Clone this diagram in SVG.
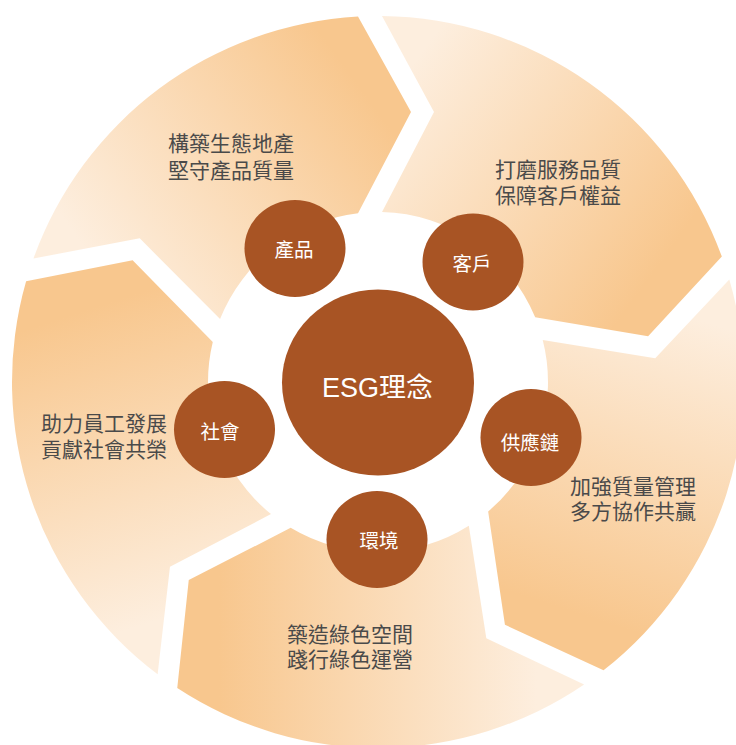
<svg xmlns="http://www.w3.org/2000/svg" width="736" height="745" viewBox="0 0 736 745">
<defs>
<linearGradient id="g1" gradientUnits="userSpaceOnUse" x1="378" y1="112" x2="634.78" y2="298.57"><stop offset="0" stop-color="#FDEEDE"/><stop offset="1" stop-color="#F8C78E"/></linearGradient>
<linearGradient id="g2" gradientUnits="userSpaceOnUse" x1="634.78" y1="298.57" x2="536.7" y2="600.43"><stop offset="0" stop-color="#FDEEDE"/><stop offset="1" stop-color="#F8C78E"/></linearGradient>
<linearGradient id="g3" gradientUnits="userSpaceOnUse" x1="536.7" y1="600.43" x2="219.3" y2="600.43"><stop offset="0" stop-color="#FDEEDE"/><stop offset="1" stop-color="#F8C78E"/></linearGradient>
<linearGradient id="g4" gradientUnits="userSpaceOnUse" x1="219.3" y1="600.43" x2="121.22" y2="298.57"><stop offset="0" stop-color="#FDEEDE"/><stop offset="1" stop-color="#F8C78E"/></linearGradient>
<linearGradient id="g5" gradientUnits="userSpaceOnUse" x1="121.22" y1="298.57" x2="378" y2="112"><stop offset="0" stop-color="#FDEEDE"/><stop offset="1" stop-color="#F8C78E"/></linearGradient>
</defs>
<style>
.node{fill:#A85424}
.desc{font-family:"Noto Sans CJK TC","Noto Sans CJK SC",sans-serif;font-size:21px;fill:#4A4A4A}
.lbl{font-family:"Noto Sans CJK TC","Noto Sans CJK SC",sans-serif;font-size:19.5px;fill:#FFFFFF;text-anchor:middle}
.main{font-family:"Liberation Sans","Noto Sans CJK TC",sans-serif;font-size:27px;fill:#FFFFFF;text-anchor:middle}
</style>
<rect width="736" height="745" fill="#FFFFFF"/>
<g id="segments">
<path id="seg-customer" fill="url(#g1)" d="M382,16.02 A366,366 0 0 1 721.85,256.61 L648.1,336.3 L535.18,317.26 A170,170 0 0 0 382,212.05 L434,112 Z"/>
<path id="seg-supply" fill="url(#g2)" d="M729.32,279.41 A366,366 0 0 1 603.51,670.27 L504.93,624.75 L488.15,511.49 A170,170 0 0 0 542.74,340.04 L655.21,358.17 Z"/>
<path id="seg-env" fill="url(#g3)" d="M584.13,684.43 A366,366 0 0 1 177.25,688.03 L188.75,580.06 L290.66,527.85 A170,170 0 0 0 468.81,525.71 L486.32,638.27 Z"/>
<path id="seg-society" fill="url(#g4)" d="M157.62,674.21 A366,366 0 0 1 26.11,281.33 L132.62,260.21 L212.78,341.98 A170,170 0 0 0 270.99,514.09 L169.98,566.77 Z"/>
<path id="seg-product" fill="url(#g5)" d="M33.48,258.49 A366,366 0 0 1 358,16.55 L411,112 L358,213.18 A170,170 0 0 0 220.06,319.12 L139.73,238.34 Z"/>
</g>
<g id="descriptions">
<text class="desc" x="168" y="151">構築生態地產<tspan x="168" dy="26.5">堅守產品質量</tspan></text>
<text class="desc" x="495" y="177">打磨服務品質<tspan x="495" dy="26">保障客戶權益</tspan></text>
<text class="desc" x="570" y="493.5">加強質量管理<tspan x="570" dy="25.5">多方協作共贏</tspan></text>
<text class="desc" x="287" y="641.5">築造綠色空間<tspan x="287" dy="25.5">踐行綠色運營</tspan></text>
<text class="desc" x="41" y="430.5">助力員工發展<tspan x="41" dy="26">貢獻社會共榮</tspan></text>
</g>
<g id="node-esg"><ellipse class="node" cx="378" cy="382.5" rx="96" ry="93"/><text class="main" x="377.5" y="397">ESG理念</text></g>
<g id="node-product"><ellipse class="node" cx="295" cy="248.5" rx="50.5" ry="48.5"/><text class="lbl" x="294" y="256.5">產品</text></g>
<g id="node-customer"><ellipse class="node" cx="473" cy="262" rx="50.5" ry="48.5"/><text class="lbl" x="472" y="271">客戶</text></g>
<g id="node-supply"><ellipse class="node" cx="531" cy="437.5" rx="50.5" ry="48.5"/><text class="lbl" x="530" y="450">供應鏈</text></g>
<g id="node-society"><ellipse class="node" cx="224.5" cy="429.5" rx="50.5" ry="48.5"/><text class="lbl" x="220" y="438.5">社會</text></g>
<g id="node-env"><ellipse class="node" cx="377" cy="539.5" rx="50.5" ry="48.5"/><text class="lbl" x="379" y="548">環境</text></g>
</svg>
